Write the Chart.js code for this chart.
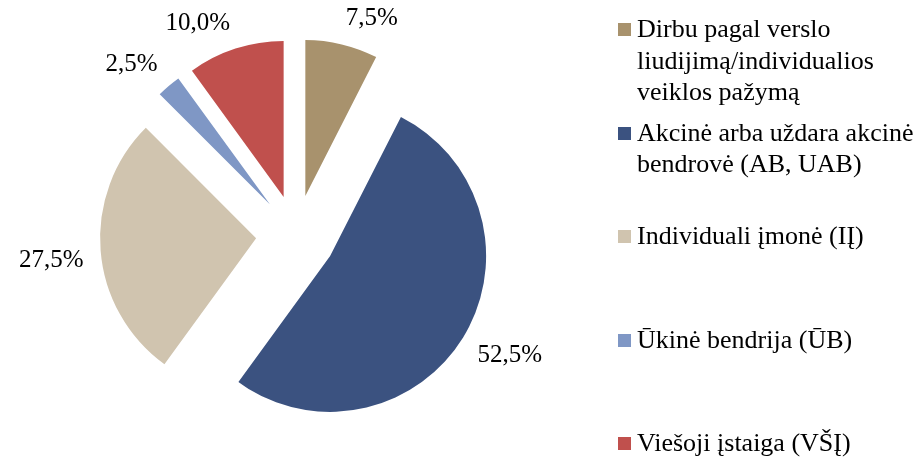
<!DOCTYPE html>
<html><head><meta charset="utf-8">
<script src="https://cdn.jsdelivr.net/npm/chart.js@4.4.0/dist/chart.umd.min.js"></script>
<style>
html,body{margin:0;padding:0;background:#fff;}
#wrap{position:relative;width:924px;height:458px;overflow:hidden;background:#fff;}
canvas{position:absolute;left:0;top:0;}
.item{position:absolute;left:637px;font-family:"Liberation Serif","Times New Roman",serif;font-size:26px;line-height:31.5px;color:#000;white-space:pre;}
.sw{position:absolute;left:-19px;top:10px;width:13px;height:13px;}
</style></head><body>
<div id="wrap"><canvas id="c" width="924" height="458"></canvas><div id="legend"></div></div>
<script>
const categories = [
  "Dirbu pagal verslo\nliudijimą/individualios\nveiklos pažymą",
  "Akcinė arba uždara akcinė\nbendrovė (AB, UAB)",
  "Individuali įmonė (IĮ)",
  "Ūkinė bendrija (ŪB)",
  "Viešoji įstaiga (VŠĮ)"
];
const values = [7.5, 52.5, 27.5, 2.5, 10.0];
const colors = ["#A8926D", "#3B5280", "#D0C4AF", "#7F97C5", "#C0504D"];

const EXPLODE = 40;
const LABEL_GAP = 17;

// legend (HTML, real text)
const legend = document.getElementById('legend');
categories.forEach((c, i) => {
  const d = document.createElement('div');
  d.className = 'item';
  d.style.top = (13 + i * 103.5) + 'px';
  const s = document.createElement('span');
  s.className = 'sw';
  s.style.background = colors[i];
  d.appendChild(s);
  d.appendChild(document.createTextNode(c));
  legend.appendChild(d);
});

const explodePlugin = {
  id: 'explode',
  afterDatasetUpdate(chart, args) {
    args.meta.data.forEach(arc => {
      const mid = (arc.startAngle + arc.endAngle) / 2;
      arc.x += Math.cos(mid) * EXPLODE;
      arc.y += Math.sin(mid) * EXPLODE;
    });
  }
};

const labelPlugin = {
  id: 'pctLabels',
  afterDatasetsDraw(chart) {
    const ctx = chart.ctx;
    const meta = chart.getDatasetMeta(0);
    ctx.save();
    ctx.font = '25px "Liberation Serif", "Times New Roman", serif';
    ctx.fillStyle = '#000';
    ctx.textAlign = 'center';
    ctx.textBaseline = 'middle';
    meta.data.forEach((arc, i) => {
      const mid = (arc.startAngle + arc.endAngle) / 2;
      const dx = Math.cos(mid), dy = Math.sin(mid);
      const txt = values[i].toFixed(1).replace('.', ',') + '%';
      const w = ctx.measureText(txt).width;
      const h = 18;
      const r = arc.outerRadius + LABEL_GAP;
      const x = arc.x + dx * r + Math.sign(dx) * w / 2;
      const y = arc.y + dy * r + Math.sign(dy) * h / 2;
      ctx.fillText(txt, x, y);
    });
    ctx.restore();
  }
};

new Chart(document.getElementById('c'), {
  type: 'pie',
  data: {
    labels: categories,
    datasets: [{
      data: values,
      backgroundColor: colors,
      borderWidth: 0,
      radius: 156
    }]
  },
  options: {
    responsive: false,
    animation: false,
    events: [],
    radius: 156,
    layout: { padding: { left: 0, right: 332, top: 12, bottom: 0 } },
    plugins: { legend: { display: false }, tooltip: { enabled: false } }
  },
  plugins: [explodePlugin, labelPlugin]
});
</script>
</body></html>
